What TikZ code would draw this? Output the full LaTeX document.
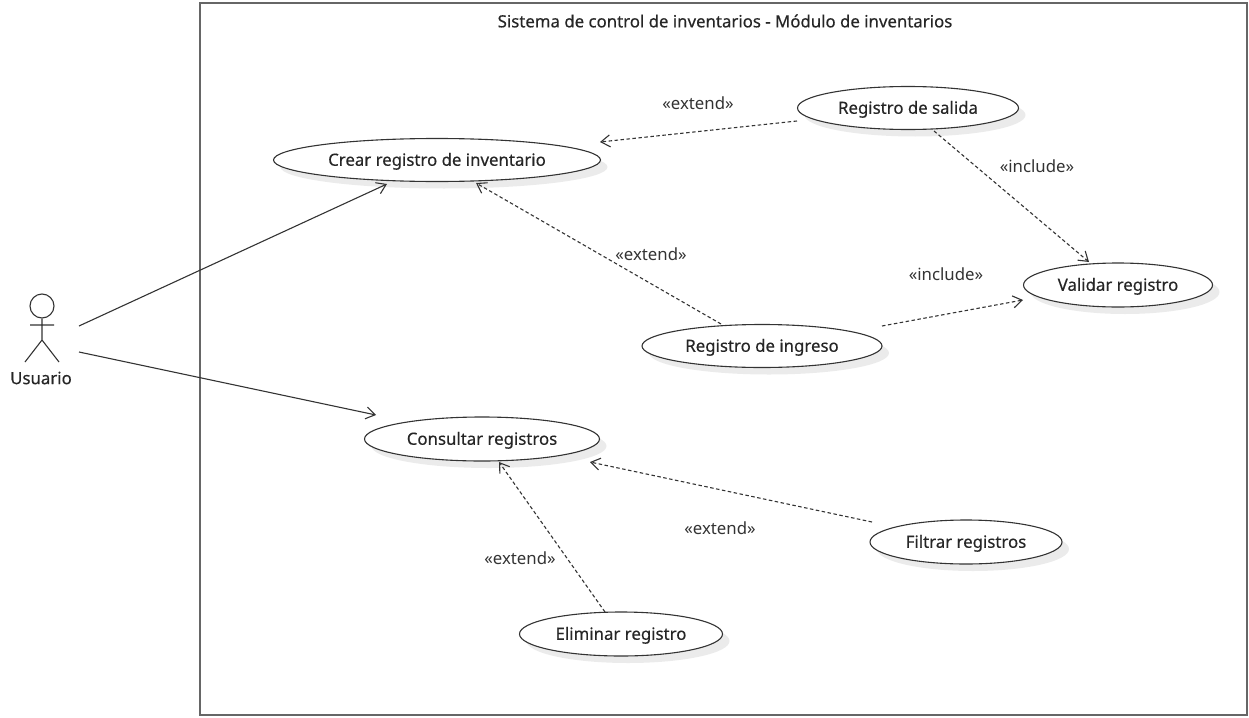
\documentclass[tikz,border=0pt]{standalone}
\usepackage{fontspec}
\setmainfont{Noto Sans}
\newfontfamily\labelfont[FakeBold=0.35]{Noto Sans}
\usetikzlibrary{arrows.meta,shapes.geometric,shadows}
\definecolor{inkline}{HTML}{333333}
\tikzset{
  usecase/.style={ellipse, draw=inkline, fill=white, line width=1.1pt, inner sep=0pt, text height=14.5pt, text depth=3pt, font=\fontsize{16.8}{19}\labelfont\bfseries, text=black!85,
    drop shadow={shadow xshift=7pt, shadow yshift=-7pt, fill=black, opacity=0.08}},
  stereo/.style={font=\fontsize{16.8}{19}\selectfont, text=inkline},
  heading/.style={font=\fontsize{16.8}{19}\labelfont\bfseries, text=black!85},
  assoc/.style={draw=inkline, line width=1.1pt, -{Straight Barb[length=9pt,width=12pt]}},
  dep/.style={draw=inkline, line width=1.1pt, dash pattern=on 3.5pt off 2.5pt, -{Straight Barb[length=9pt,width=12pt]}},
}
\begin{document}
\begin{tikzpicture}[x=1pt, y=-1pt]
        \useasboundingbox (0, 0) rectangle (1249, 717);
        \node[draw=inkline!75, line width=1.6pt, minimum width=1047pt, minimum height=712pt, inner sep=0pt] (system) at (723.5, 359) {};
        \node[heading] (title) at (725, 21) {Sistema de control de inventarios - Módulo de inventarios};

        \node[usecase, minimum width=327pt, minimum height=43pt] (crear) at (437, 160) {Crear registro de inventario};
        \node[usecase, minimum width=221pt, minimum height=43pt] (salida) at (908, 108) {Registro de salida};
        \node[usecase, minimum width=189pt, minimum height=44pt] (validar) at (1118, 285) {Validar registro};
        \node[usecase, minimum width=240pt, minimum height=43pt] (ingreso) at (762, 346) {Registro de ingreso};
        \node[usecase, minimum width=235pt, minimum height=44pt] (consultar) at (482, 439) {Consultar registros};
        \node[usecase, minimum width=192pt, minimum height=44pt] (filtrar) at (966, 542) {Filtrar registros};
        \node[usecase, minimum width=203pt, minimum height=44pt] (eliminar) at (621, 634) {Eliminar registro};

        \node[circle, draw=inkline, line width=1.1pt, minimum size=24pt, inner sep=0pt] (head) at (42, 306) {};
        \coordinate (hip) at (42, 340);
        \coordinate (armL) at (30, 325);
        \coordinate (armR) at (54, 325);
        \coordinate (legL) at (25, 362);
        \coordinate (legR) at (59, 362);
        \draw[draw=inkline, line width=1.1pt] (head.south) -- (hip) (armL) -- (armR) (legL) -- (hip) -- (legR);
        \node[heading] (usuario) at (41, 378) {Usuario};

        \coordinate (actorA) at (79, 326);
        \coordinate (actorB) at (79, 352);
        \coordinate (crearIn) at (387, 184);
        \coordinate (consultarIn) at (376, 415);
        \draw[assoc] (actorA) -- (crearIn);
        \draw[assoc] (actorB) -- (consultarIn);

        \coordinate (salidaOut) at (797, 121);
        \coordinate (crearA) at (600, 142);
        \coordinate (ingresoOut) at (721, 324);
        \coordinate (crearB) at (476, 183);
        \coordinate (salidaIn) at (934, 131);
        \coordinate (validarA) at (1089, 262);
        \coordinate (ingresoIn) at (882, 326);
        \coordinate (validarB) at (1023, 300);
        \coordinate (filtrarOut) at (872, 522);
        \coordinate (consultarA) at (590, 462);
        \coordinate (eliminarOut) at (605, 612);
        \coordinate (consultarB) at (499, 462);
        \draw[dep] (salidaOut) -- (crearA);
        \draw[dep] (ingresoOut) -- (crearB);
        \draw[dep] (salidaIn) -- (validarA);
        \draw[dep] (ingresoIn) -- (validarB);
        \draw[dep] (filtrarOut) -- (consultarA);
        \draw[dep] (eliminarOut) -- (consultarB);

        \node[stereo] (ext1) at (698, 103) {«extend»};
        \node[stereo] (inc1) at (1037, 166) {«include»};
        \node[stereo] (ext2) at (651, 254) {«extend»};
        \node[stereo] (inc2) at (946, 274) {«include»};
        \node[stereo] (ext3) at (720, 528) {«extend»};
        \node[stereo] (ext4) at (520, 558) {«extend»};
\end{tikzpicture}
\end{document}
